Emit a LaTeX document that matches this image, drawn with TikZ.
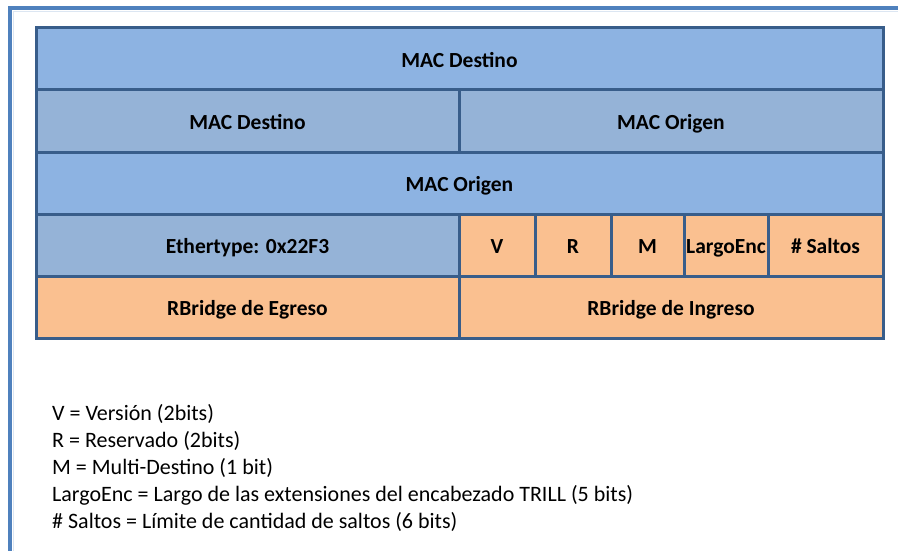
\documentclass[tikz,border=0pt]{standalone}
\usepackage{fontspec}
\setmainfont{Carlito}
\usepackage{xcolor}
\usepackage{tikz}
\usetikzlibrary{positioning}
\definecolor{frameblue}{HTML}{4F81BD}
\definecolor{framelight}{HTML}{DCE6F2}
\definecolor{hdrblue}{HTML}{8DB3E2}
\definecolor{hdrgrey}{HTML}{95B3D7}
\definecolor{hdrorange}{HTML}{FAC090}
\definecolor{hdrline}{HTML}{385D8A}
\tikzset{
  field/.style={draw=hdrline,line width=3pt,minimum height=62pt,inner sep=0pt,
    text height=17pt,text depth=0pt,
    font=\fontsize{21.5}{24}\selectfont\bfseries},
  bluefield/.style={field,fill=hdrblue},
  greyfield/.style={field,fill=hdrgrey},
  orangefield/.style={field,fill=hdrorange},
  legline/.style={anchor=base west,inner sep=0pt,font=\fontsize{22}{24}\selectfont},
}

\begin{document}
\begin{tikzpicture}[x=1pt,y=-1pt]
  \useasboundingbox (0,0) rectangle (898,551);
  % frame
  \draw[framelight,line width=1.5pt] (13.5,551) -- (13.5,11.5) -- (898,11.5);
  \draw[frameblue,line width=4pt] (10,551) -- (10,8) -- (898,8);
  % header rows
  \node[bluefield,minimum width=847pt] (macdst) at (459.5,59) {MAC Destino};
  \node[greyfield,minimum width=423pt] (macdst2) at (247.5,121) {MAC Destino};
  \node[greyfield,minimum width=424pt] (macsrc) at (671,121) {MAC Origen};
  \node[bluefield,minimum width=847pt] (macsrc2) at (459.5,183) {MAC Origen};
  \node[greyfield,minimum width=423pt] (ethtype) at (247.5,245) {Ethertype: 0x22F3};
  \node[orangefield,minimum width=76pt] (fv) at (497,245) {V};
  \node[orangefield,minimum width=76pt] (fr) at (573,245) {R};
  \node[orangefield,minimum width=73pt] (fm) at (647.5,245) {M};
  \node[orangefield,minimum width=84pt] (flen) at (726,245) {LargoEnc};
  \node[orangefield,minimum width=115pt] (fhop) at (825.5,245) {\# Saltos};
  \node[orangefield,minimum width=423pt] (egress) at (247.5,307) {RBridge de Egreso};
  \node[orangefield,minimum width=424pt] (ingress) at (671,307) {RBridge de Ingreso};
  % legend
  \node[legline] (legv) at (52,420) {V = Versión (2bits)};
  \node[legline] (legr) at (52,447) {R = Reservado (2bits)};
  \node[legline] (legm) at (52,474) {M = Multi-Destino (1 bit)};
  \node[legline] (leglen) at (52,501) {LargoEnc = Largo de las extensiones del encabezado TRILL (5 bits)};
  \node[legline] (leghop) at (52,528) {\# Saltos = Límite de cantidad de saltos (6 bits)};
\end{tikzpicture}
\end{document}
